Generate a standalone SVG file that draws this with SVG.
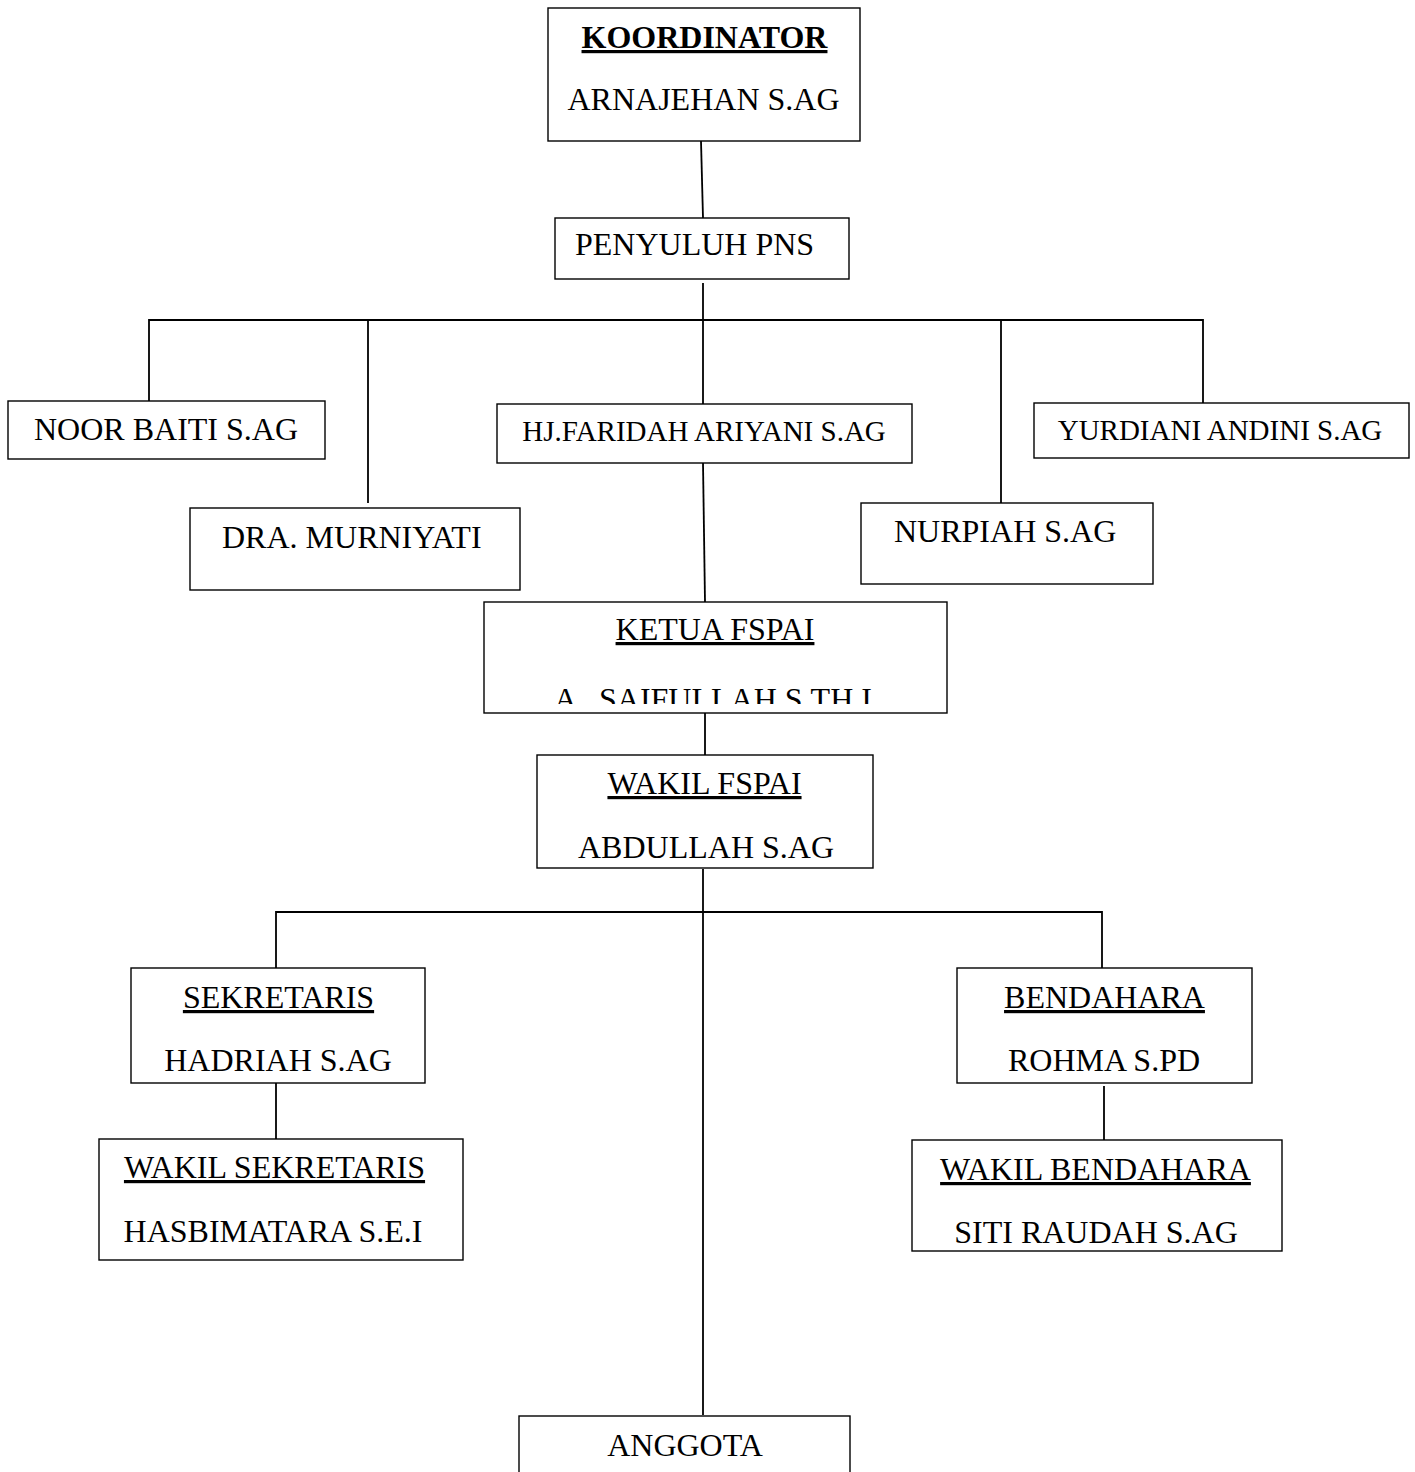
<svg xmlns="http://www.w3.org/2000/svg" width="1415" height="1472" viewBox="0 0 1415 1472">
<style>
.box{fill:#fff;stroke:#000;stroke-width:1.4}
.t{font-family:"Liberation Serif","Times New Roman",serif;font-size:32px;fill:#000;text-anchor:middle}
.s{font-size:29px}
.u{text-decoration:underline}
.b{font-weight:bold}
.ln{stroke:#000;stroke-width:1.8;fill:none}
</style>
<defs>
<clipPath id="ketuaClip"><rect x="484" y="602" width="463" height="102"/></clipPath>
</defs>
<rect width="1415" height="1472" fill="#fff"/>
<g id="connectors">
<path class="ln" d="M701,141 L703,218"/>
<path class="ln" d="M703,283 L703,320"/>
<path class="ln" d="M149,403 L149,320 L1203,320 L1203,403"/>
<path class="ln" d="M368,320 L368,503"/>
<path class="ln" d="M703,320 L703,404"/>
<path class="ln" d="M1001,320 L1001,503"/>
<path class="ln" d="M703,463 L705,602"/>
<path class="ln" d="M705,713 L705,755"/>
<path class="ln" d="M703,869 L703,1415"/>
<path class="ln" d="M276,968 L276,912 L1102,912 L1102,968"/>
<path class="ln" d="M276,1083 L276,1139"/>
<path class="ln" d="M1104,1086 L1104,1140"/>
</g>
<g id="koordinator">
<rect class="box" x="548" y="8" width="312" height="133"/>
<text class="t b u" x="704.5" y="48">KOORDINATOR</text>
<text class="t" x="703.5" y="110">ARNAJEHAN S.AG</text>
</g>
<g id="penyuluh">
<rect class="box" x="555" y="218" width="294" height="61"/>
<text class="t" x="575" y="255" style="text-anchor:start">PENYULUH PNS</text>
</g>
<g id="noor">
<rect class="box" x="8" y="401" width="317" height="58"/>
<text class="t" x="166" y="440">NOOR BAITI S.AG</text>
</g>
<g id="murniyati">
<rect class="box" x="190" y="508" width="330" height="82"/>
<text class="t" x="222" y="548" style="text-anchor:start">DRA. MURNIYATI</text>
</g>
<g id="faridah">
<rect class="box" x="497" y="404" width="415" height="59"/>
<text class="t s" x="704" y="441">HJ.FARIDAH ARIYANI S.AG</text>
</g>
<g id="nurpiah">
<rect class="box" x="861" y="503" width="292" height="81"/>
<text class="t" x="894" y="542" style="text-anchor:start">NURPIAH S.AG</text>
</g>
<g id="yurdiani">
<rect class="box" x="1034" y="403" width="375" height="55"/>
<text class="t s" x="1220" y="440">YURDIANI ANDINI S.AG</text>
</g>
<g id="ketua">
<rect class="box" x="484" y="602" width="463" height="111"/>
<text class="t u" x="715" y="640">KETUA FSPAI</text>
<g clip-path="url(#ketuaClip)">
<text class="t" x="554" y="710" style="text-anchor:start">A.</text>
<text class="t" x="599" y="710" style="text-anchor:start">SAIFULLAH S.TH.I</text>
</g>
</g>
<g id="wakil-fspai">
<rect class="box" x="537" y="755" width="336" height="113"/>
<text class="t u" x="704.5" y="794">WAKIL FSPAI</text>
<text class="t" x="706" y="858">ABDULLAH S.AG</text>
</g>
<g id="sekretaris">
<rect class="box" x="131" y="968" width="294" height="115"/>
<text class="t u" x="278.5" y="1008">SEKRETARIS</text>
<text class="t" x="278" y="1071">HADRIAH S.AG</text>
</g>
<g id="wakil-sekretaris">
<rect class="box" x="99" y="1139" width="364" height="121"/>
<text class="t u" x="274.5" y="1178">WAKIL SEKRETARIS</text>
<text class="t" x="273" y="1242">HASBIMATARA S.E.I</text>
</g>
<g id="bendahara">
<rect class="box" x="957" y="968" width="295" height="115"/>
<text class="t u" x="1104.5" y="1008">BENDAHARA</text>
<text class="t" x="1104" y="1071">ROHMA S.PD</text>
</g>
<g id="wakil-bendahara">
<rect class="box" x="912" y="1140" width="370" height="111"/>
<text class="t u" x="1095.5" y="1180">WAKIL BENDAHARA</text>
<text class="t" x="1096" y="1243">SITI RAUDAH S.AG</text>
</g>
<g id="anggota">
<rect class="box" x="519" y="1416" width="331" height="80"/>
<text class="t" x="685" y="1456">ANGGOTA</text>
</g>
</svg>
